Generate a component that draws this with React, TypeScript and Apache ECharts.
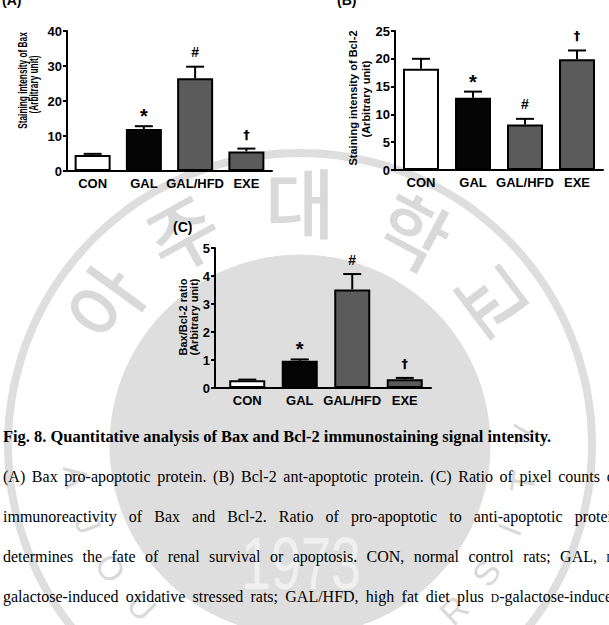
import { useEffect, useRef } from 'react';
import * as echarts from 'echarts';

// ---------- data ----------
const categories = ['CON', 'GAL', 'GAL/HFD', 'EXE'];
const markers = ['', '*', '#', '†'];
const barFills = ['#ffffff', '#050505', '#5b5b5b', '#5b5b5b'];

const baxValues = [4.6, 12.0, 26.5, 5.6];
const baxErrors = [0.3, 0.8, 3.3, 0.8];
const bcl2Values = [18.2, 13.0, 8.2, 19.9];
const bcl2Errors = [1.8, 1.1, 1.0, 1.6];
const ratioValues = [0.28, 0.97, 3.52, 0.31];
const ratioErrors = [0.02, 0.05, 0.55, 0.05];

const baxTicks = [0, 10, 20, 30, 40];
const bcl2Ticks = [0, 5, 10, 15, 20, 25];
const ratioTicks = [0, 1, 2, 3, 4, 5];

const captionTitle =
  'Fig. 8. Quantitative analysis of Bax and Bcl-2 immunostaining signal intensity.';
const captionLines = [
  '(A) Bax pro-apoptotic protein. (B) Bcl-2 ant-apoptotic protein. (C) Ratio of pixel counts of',
  'immunoreactivity of Bax and Bcl-2. Ratio of pro-apoptotic to anti-apoptotic protein',
  'determines the fate of renal survival or apoptosis. CON, normal control rats; GAL, ᴅ-',
  'galactose-induced oxidative stressed rats; GAL/HFD, high fat diet plus ᴅ-galactose-induced',
];

const sealChars = ['아', '주', '대', '학', '교'];
const sealCharAngles = [-54, -29, 0, 28, 53];
const sealLetters = 'AJOU UNIVERSITY';
const sealYear = '1973';

// ---------- styling ----------
const SANS = '"Liberation Sans", Arial, sans-serif';
const SERIF = '"Liberation Serif", "Times New Roman", serif';

const panels = [
  {
    tag: '(A)', tagPos: [2, 0],
    values: baxValues, errors: baxErrors, ticks: baxTicks,
    nameLines: ['Staining intensity of Bax', '(Arbitrary unit)'],
    namePos: [[23, 80.5], [34, 84.5]], nameSize: 12, nameScale: 0.69,
    grid: { left: 67, top: 31, width: 205, height: 140 }, axisOffset: 0,
  },
  {
    tag: '(B)', tagPos: [337, 0],
    values: bcl2Values, errors: bcl2Errors, ticks: bcl2Ticks,
    nameLines: ['Staining intensity of Bcl-2', '(Arbitrary unit)'],
    namePos: [[353, 98], [366, 99]], nameSize: 11, nameScale: 1,
    grid: { left: 395, top: 31, width: 208, height: 139 }, axisOffset: 0,
  },
  {
    tag: '(C)', tagPos: [173, 226.5],
    values: ratioValues, errors: ratioErrors, ticks: ratioTicks,
    nameLines: ['Bax/Bcl-2 ratio', '(Arbitrary unit)'],
    namePos: [[183, 317], [194, 317]], nameSize: 11, nameScale: 1,
    grid: { left: 221, top: 248, width: 210, height: 140 }, axisOffset: 6,
  },
];

const markStyle: Record<string, { size: number; dy: number; family: string }> = {
  '*': { size: 20, dy: 4.5, family: SANS },
  '#': { size: 14, dy: 0, family: SANS },
  '†': { size: 13, dy: 0, family: '"DejaVu Sans", sans-serif' },
};

const errorRenderItem = (_params: any, api: any) => {
  const idx = api.value(0);
  const v = api.value(1);
  const e = api.value(2);
  const base = api.coord([idx, v]);
  const top = api.coord([idx, v + e]);
  const cx = base[0];
  const children: any[] = [
    { type: 'line', shape: { x1: cx, y1: base[1], x2: cx, y2: top[1] }, style: { stroke: '#000', lineWidth: 2 } },
    { type: 'line', shape: { x1: cx - 9, y1: top[1], x2: cx + 9, y2: top[1] }, style: { stroke: '#000', lineWidth: 2 } },
  ];
  const mark = markers[idx];
  if (mark) {
    const m = markStyle[mark];
    children.push({
      type: 'text',
      style: {
        text: mark, x: cx, y: top[1] - 14.5 + m.dy,
        font: `bold ${m.size}px ${m.family}`, fill: '#000000',
        align: 'center', verticalAlign: 'middle', textAlign: 'center', textVerticalAlign: 'middle',
      },
    });
  }
  return { type: 'group', children };
};

function App() {
  const ref = useRef<HTMLDivElement>(null);

  useEffect(() => {
    document.body.style.margin = '0';
    const chart = echarts.init(ref.current!, null, { renderer: 'svg' });

    const grids: any[] = [];
    const xAxes: any[] = [];
    const yAxes: any[] = [];
    const series: any[] = [];
    const seal: any[] = [];
    const texts: any[] = [];

    panels.forEach((p, i) => {
      grids.push({ ...p.grid, containLabel: false });
      xAxes.push({
        gridIndex: i, type: 'category', data: categories,
        axisLine: { show: true, lineStyle: { color: '#000', width: 2 } },
        axisTick: { show: false },
        axisLabel: { interval: 0, color: '#000', fontFamily: SANS, fontWeight: 'bold', fontSize: 13, margin: 6 },
      });
      yAxes.push({
        gridIndex: i, type: 'value',
        min: p.ticks[0], max: p.ticks[p.ticks.length - 1], interval: p.ticks[1] - p.ticks[0],
        offset: p.axisOffset,
        axisLine: { show: true, lineStyle: { color: '#000', width: 2 } },
        axisTick: { show: true, length: 4, lineStyle: { color: '#000', width: 2 } },
        axisLabel: { color: '#000', fontFamily: SANS, fontWeight: 'bold', fontSize: 13, margin: 5 },
        splitLine: { show: false },
      });
      series.push({
        type: 'bar', xAxisIndex: i, yAxisIndex: i, barWidth: 36, z: 3,
        itemStyle: { borderColor: '#000', borderWidth: 2 },
        data: p.values.map((v, j) => ({ value: v, itemStyle: { color: barFills[j] } })),
      });
      series.push({
        type: 'custom', xAxisIndex: i, yAxisIndex: i, z: 4,
        encode: { x: 0, y: 1 },
        renderItem: errorRenderItem,
        data: p.values.map((v, j) => [j, v, p.errors[j]]),
      });

      // panel tag
      texts.push({
        type: 'text', x: p.tagPos[0], y: p.tagPos[1], z: 20,
        style: { text: p.tag, font: `bold 14px ${SANS}`, fill: '#000', align: 'left', verticalAlign: 'middle', textAlign: 'left', textVerticalAlign: 'middle' },
      });
      // rotated axis title
      p.nameLines.forEach((t, k) => {
        texts.push({
          type: 'text', x: p.namePos[k][0], y: p.namePos[k][1], rotation: Math.PI / 2,
          scaleX: p.nameScale, z: 20,
          style: { text: t, font: `bold ${p.nameSize}px ${SANS}`, fill: '#000', align: 'center', verticalAlign: 'middle', textAlign: 'center', textVerticalAlign: 'middle' },
        });
      });
      // x-axis line continues to the offset y-axis
      if (p.axisOffset) {
        const zeroY = p.grid.top + p.grid.height;
        texts.push({
          type: 'line', z: 20,
          shape: { x1: p.grid.left - p.axisOffset, y1: zeroY, x2: p.grid.left, y2: zeroY },
          style: { stroke: '#000', lineWidth: 2 },
        });
      }
    });

    // ---- faint university seal behind everything ----
    const SC = [300, 445];
    const sealGray = '#d9d9d9';
    seal.push({ type: 'circle', id: 'seal-disc', z: -2, shape: { cx: SC[0], cy: SC[1], r: 190 }, style: { fill: '#dedede', stroke: '#dedede', lineWidth: 1 } });
    seal.push({ type: 'ring', id: 'seal-ring', z: -2, shape: { cx: SC[0], cy: SC[1], r: 296, r0: 288 }, style: { fill: '#dedede' } });
    sealChars.forEach((ch, k) => {
      const a = (sealCharAngles[k] * Math.PI) / 180;
      seal.push({
        type: 'text', z: -1,
        x: SC[0] + 245 * Math.sin(a), y: SC[1] - 245 * Math.cos(a), rotation: -a,
        style: { text: ch, font: `500 76px "Noto Sans CJK KR"`, fill: sealGray, align: 'center', verticalAlign: 'middle', textAlign: 'center', textVerticalAlign: 'middle' },
      });
    });
    Array.from(sealLetters).forEach((ch, k) => {
      if (ch === ' ') return;
      const deg = 262 - 12.5 * k;
      const a = (deg * Math.PI) / 180;
      seal.push({
        type: 'text', z: -1,
        x: SC[0] + 226 * Math.sin(a), y: SC[1] - 226 * Math.cos(a), rotation: -(a + Math.PI),
        style: { text: ch, font: `34px ${SANS}`, fill: sealGray, align: 'center', verticalAlign: 'middle', textAlign: 'center', textVerticalAlign: 'middle' },
      });
    });
    seal.push({
      type: 'text', z: -1, x: 301, y: 563, scaleX: 0.73,
      style: { text: sealYear, font: `74px ${SANS}`, fill: '#f0f0f0', align: 'center', verticalAlign: 'middle', textAlign: 'center', textVerticalAlign: 'middle' },
    });

    // ---- caption ----
    const ctx = document.createElement('canvas').getContext('2d')!;
    const measure = (t: string, font: string) => { ctx.font = font; return ctx.measureText(t).width; };
    const CENTRAL = 0.3375; // central baseline offset of the serif face, in em

    const titleSize = 17;
    const titleFont = `bold ${titleSize}px ${SERIF}`;
    const titleW = measure(captionTitle, titleFont);
    texts.push({
      type: 'text', z: 20, x: 3, y: 441.7 - CENTRAL * titleSize, scaleX: 549 / titleW,
      style: { text: captionTitle, font: titleFont, fill: '#000', align: 'left', verticalAlign: 'middle', textAlign: 'left', textVerticalAlign: 'middle' },
    });

    const BODY = 16;
    const SMALLCAP = 11.5;
    const X0 = 3;
    const RIGHT = 620;
    const baselines = [481.7, 521.7, 561.7, 601.7];
    captionLines.forEach((line, li) => {
      const words = line.split(' ').map((w) => {
        const runs: { text: string; size: number; w: number }[] = [];
        let buf = '';
        const flush = () => { if (buf) runs.push({ text: buf, size: BODY, w: 0 }); buf = ''; };
        for (const ch of w) {
          if (ch === 'ᴅ') { flush(); runs.push({ text: 'D', size: SMALLCAP, w: 0 }); } else buf += ch;
        }
        flush();
        runs.forEach((r) => { r.w = measure(r.text, `${r.size}px ${SERIF}`); });
        return { runs, w: runs.reduce((s, r) => s + r.w, 0) };
      });
      const total = words.reduce((s, w) => s + w.w, 0);
      const gap = Math.max(3, (RIGHT - X0 - total) / (words.length - 1));
      let x = X0;
      words.forEach((w) => {
        let rx = x;
        w.runs.forEach((r) => {
          texts.push({
            type: 'text', z: 20, x: rx, y: baselines[li] - CENTRAL * r.size,
            style: { text: r.text, font: `${r.size}px ${SERIF}`, fill: '#000', align: 'left', verticalAlign: 'middle', textAlign: 'left', textVerticalAlign: 'middle' },
          });
          rx += r.w;
        });
        x += w.w + gap;
      });
    });

    chart.setOption({
      animation: false,
      grid: grids,
      xAxis: xAxes,
      yAxis: yAxes,
      series,
      graphic: { elements: [...seal, ...texts] },
    });

    return () => chart.dispose();
  }, []);

  return <div ref={ref} style={{ width: 609, height: 625, background: '#ffffff' }} />;
}

export default App;
